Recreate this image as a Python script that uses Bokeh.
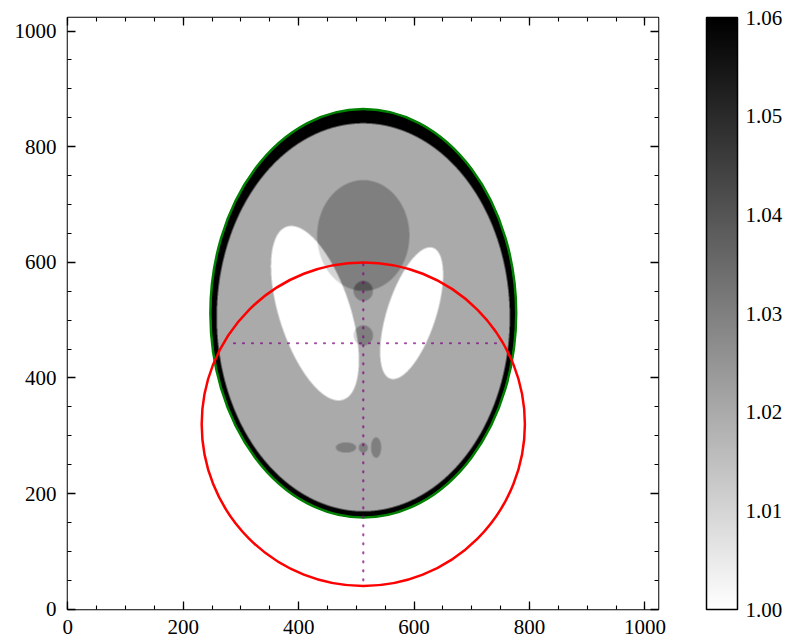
import numpy as np
from bokeh.plotting import figure
from bokeh.models import (Range1d, LinearAxis, SingleIntervalTicker, LinearColorMapper,
                          ColorBar, FixedTicker, PrintfTickFormatter)
from bokeh.embed import file_html
from bokeh.resources import INLINE

# ---------------- data ----------------
N = 1024                      # image size (pixels)
CENTER = 512                  # phantom centre (pixels)
SCALE = 384                   # pixels per phantom unit

# Shepp-Logan phantom ellipses (original intensities)
E_X0 = [0.0, 0.0, 0.22, -0.22, 0.0, 0.0, 0.0, -0.08, 0.0, 0.06]
E_Y0 = [0.0, -0.0184, 0.0, 0.0, 0.35, 0.1, -0.1, -0.605, -0.606, -0.605]
E_A = [0.69, 0.6624, 0.11, 0.16, 0.21, 0.046, 0.046, 0.046, 0.023, 0.023]
E_B = [0.92, 0.874, 0.31, 0.41, 0.25, 0.046, 0.046, 0.023, 0.023, 0.046]
E_THETA = [0, 0, -18, 18, 0, 0, 0, 0, 0, 0]
E_RHO = [2.0, -0.98, -0.02, -0.02, 0.01, 0.01, 0.01, 0.01, 0.01, 0.01]

CB_LOW, CB_HIGH = 1.00, 1.06
CB_TICKS = [1.00, 1.01, 1.02, 1.03, 1.04, 1.05, 1.06]
AXIS_TICK_STEP = 200

CIRCLE_X, CIRCLE_Y, CIRCLE_R = [512], [320], 280
VLINE_X, VLINE_Y = [512, 512], [50, 600]
HLINE_X, HLINE_Y = [288, 742], [460, 460]

# ---------------- phantom image (anti-aliased at display resolution) ----------------
M = 592                       # display cells
SS = 3
edges = -0.5 + (np.arange(M * SS) + 0.5) * (N / (M * SS))
u = (edges - CENTER) / SCALE
U, V = np.meshgrid(u, u)
img_hi = np.zeros_like(U)
for x0, y0, a, b, th, rho in zip(E_X0, E_Y0, E_A, E_B, E_THETA, E_RHO):
    t = np.deg2rad(th)
    xr = (U - x0) * np.cos(t) + (V - y0) * np.sin(t)
    yr = -(U - x0) * np.sin(t) + (V - y0) * np.cos(t)
    img_hi[(xr / a) ** 2 + (yr / b) ** 2 <= 1] += rho
img = np.clip(img_hi, CB_LOW - 0.001, CB_HIGH + 0.001)
img = img.reshape(M, SS, M, SS).mean(axis=(1, 3))

# ---------------- figure ----------------
FONT = "Liberation Serif"
FS = "21px"
palette = ["#%02x%02x%02x" % (v, v, v) for v in range(255, -1, -1)]
mapper = LinearColorMapper(palette=palette, low=CB_LOW, high=CB_HIGH)

p = figure(width=790, height=639, output_backend="svg", toolbar_location=None,
           x_range=Range1d(-0.5, N - 0.5), y_range=Range1d(-0.5, N - 0.5),
           x_axis_location=None, y_axis_location=None,
           min_border_left=67, min_border_top=17, min_border_bottom=30, min_border_right=132)
p.grid.visible = False
p.outline_line_color = "black"
p.outline_line_width = 1.5
p.background_fill_color = "white"

p.image(image=[img], x=-0.5, y=-0.5, dw=N, dh=N, color_mapper=mapper)

g = 0
p.ellipse(x=[CENTER + E_X0[g] * SCALE], y=[CENTER + E_Y0[g] * SCALE],
          width=[2 * E_A[g] * SCALE], height=[2 * E_B[g] * SCALE],
          fill_color=None, line_color="green", line_width=2.5)
p.ellipse(x=CIRCLE_X, y=CIRCLE_Y, width=[2 * CIRCLE_R], height=[2 * CIRCLE_R],
          fill_color=None, line_color="red", line_width=2.5)
p.line(VLINE_X, VLINE_Y, line_color="purple", line_alpha=0.7, line_width=2.2,
       line_dash="1 8", line_cap="round")
p.line(HLINE_X, HLINE_Y, line_color="purple", line_alpha=0.7, line_width=2.2,
       line_dash="1 8", line_cap="round")


def style_axis(ax, standoff, labels=True):
    ax.ticker = SingleIntervalTicker(interval=AXIS_TICK_STEP, num_minor_ticks=4)
    ax.axis_line_color = None
    ax.major_tick_in = 8
    ax.major_tick_out = 0
    ax.minor_tick_in = 4
    ax.minor_tick_out = 0
    ax.major_tick_line_color = "black"
    ax.minor_tick_line_color = "black"
    ax.major_tick_line_width = 1.3
    ax.minor_tick_line_width = 1.1
    ax.major_label_text_font = FONT
    ax.major_label_standoff = standoff
    if labels:
        ax.major_label_text_font_size = FS
        ax.major_label_text_color = "black"
    else:
        ax.major_label_text_font_size = "1px"
        ax.major_label_text_color = None


xb = LinearAxis(); style_axis(xb, 10); p.add_layout(xb, "below")
yl = LinearAxis(); style_axis(yl, 11); p.add_layout(yl, "left")
xt = LinearAxis(); style_axis(xt, 0, False); p.add_layout(xt, "above")
yr_ = LinearAxis(); style_axis(yr_, 0, False); p.add_layout(yr_, "right")

cb = ColorBar(color_mapper=mapper, ticker=FixedTicker(ticks=CB_TICKS),
              formatter=PrintfTickFormatter(format="%.2f"),
              width=31, height=592, padding=0, margin=0, location=(48, 0),
              label_standoff=8, major_tick_line_color=None, minor_tick_line_color=None,
              bar_line_color="black", bar_line_width=1.5,
              major_label_text_font=FONT, major_label_text_font_size=FS,
              major_label_text_color="black", border_line_color=None,
              background_fill_alpha=0)
p.add_layout(cb, "right")

open("out.html", "w").write(file_html(p, INLINE))
